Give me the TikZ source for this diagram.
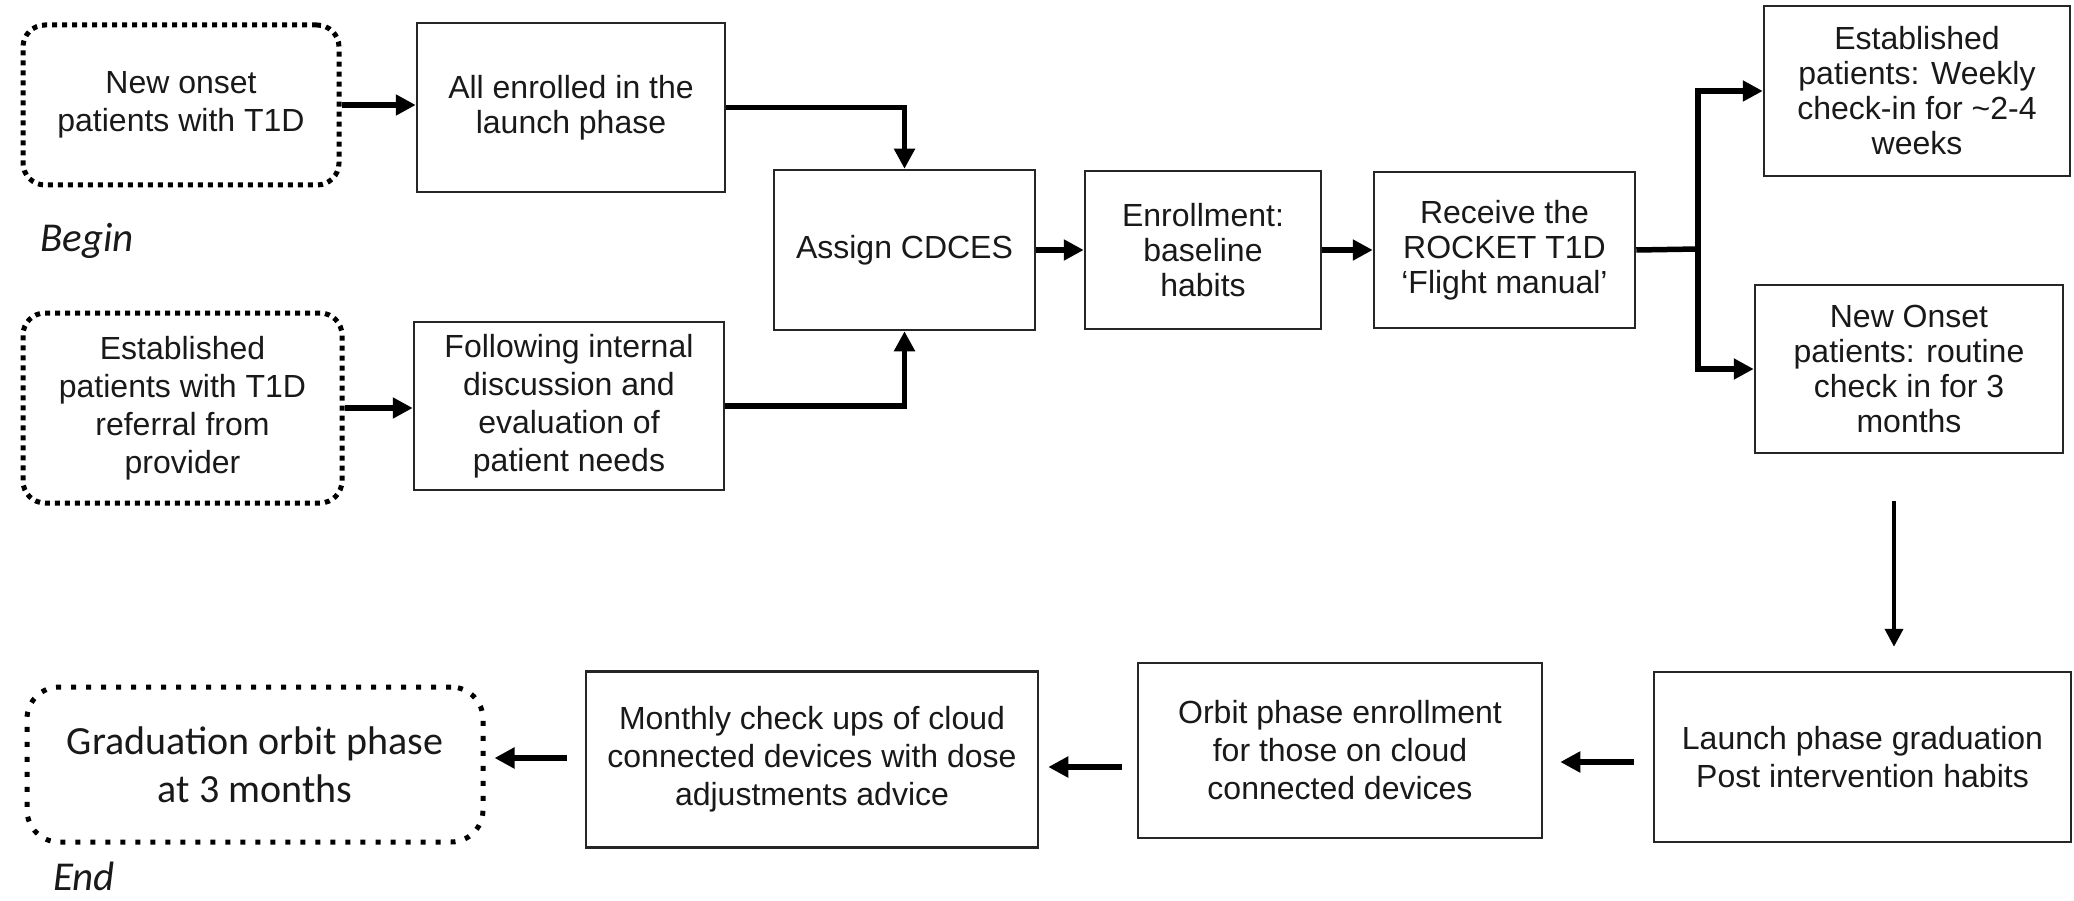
\documentclass[tikz,border=0pt]{standalone}
\usepackage{fontspec}
\setmainfont{Liberation Sans}
\newfontfamily\calibri{Carlito}
\usetikzlibrary{arrows.meta}
\tikzset{
  every node/.style={text=black!90},
  stepbox/.style={draw=black!85, line width=2.5pt, align=center, inner sep=0pt,
                  font=\fontsize{32}{35}\selectfont},
  loose/.style={font=\fontsize{32}{38}\selectfont},
  dotbox/.style={draw=black, line width=5pt, dash pattern=on 5pt off 5pt,
                 rounded corners=22pt, align=center, inner sep=0pt,
                 font=\fontsize{32}{38}\selectfont},
  flow/.style={line width=5.5pt, -{Triangle[length=20pt,width=20pt]}},
  thinflow/.style={line width=4pt, -{Triangle[length=18pt,width=18pt]}},
  note/.style={font=\calibri\itshape\fontsize{41}{48}\selectfont, anchor=base west, inner sep=0pt},
}
\begin{document}
\begin{tikzpicture}[x=1pt,y=-1pt]
\useasboundingbox (0,0) rectangle (2074,901);

% ---- entry points -------------------------------------------------------
\node[dotbox, minimum width=316pt, minimum height=160pt] (onset) at (181,105)
  {New onset\\patients with T1D};
\node[dotbox, minimum width=319pt, minimum height=190pt] (estab) at (182.5,408)
  {Established\\patients with T1D\\referral from\\provider};
\node[note] (begin) at (40,252) {Begin};

% ---- launch phase -------------------------------------------------------
\node[stepbox, minimum width=308pt, minimum height=169pt] (enroll) at (571,107.5)
  {All enrolled in the\\launch phase};
\node[stepbox, loose, minimum width=310pt, minimum height=168pt] (follow) at (569,406)
  {Following internal\\discussion and\\evaluation of\\patient needs};
\node[stepbox, minimum width=261pt, minimum height=160pt] (assign) at (904.5,250)
  {Assign CDCES};
\node[stepbox, minimum width=236pt, minimum height=158pt] (baseline) at (1203,250)
  {Enrollment:\\baseline\\habits};
\node[stepbox, minimum width=261pt, minimum height=156pt] (receive) at (1504.5,250)
  {Receive the\\ROCKET T1D\\‘Flight manual’};
\node[stepbox, minimum width=306pt, minimum height=170pt] (weekly) at (1917,91)
  {Established\\patients: Weekly\\check-in for \textasciitilde2-4\\weeks};
\node[stepbox, minimum width=308pt, minimum height=168pt] (routine) at (1909,369)
  {New Onset\\patients: routine\\check in for 3\\months};

% ---- orbit phase --------------------------------------------------------
\node[stepbox, loose, minimum width=417pt, minimum height=170pt] (launch) at (1862.5,757)
  {Launch phase graduation\\Post intervention habits};
\node[stepbox, loose, minimum width=404pt, minimum height=175pt] (orbit) at (1340,750.5)
  {Orbit phase enrollment\\for those on cloud\\connected devices};
\node[stepbox, loose, minimum width=452pt, minimum height=176pt] (monthly) at (812,759.5)
  {Monthly check ups of cloud\\connected devices with dose\\adjustments advice};
\node[dotbox, dash pattern=on 5pt off 10pt, rounded corners=32pt,
      font=\calibri\fontsize{40}{48}\selectfont,
      minimum width=456pt, minimum height=155pt] (grad) at (255,764.5)
  {Graduation orbit phase\\at 3 months};
\node[note] (end) at (53,890) {End};

% ---- helper coordinates for floating arrows -----------------------------
\coordinate (branch) at (1698,249);
\coordinate (down) at (1894,0);
\coordinate (rowA) at (0,762);
\coordinate (rowB) at (0,767);
\coordinate (rowC) at (0,758);

% ---- connectors ---------------------------------------------------------
\draw[flow] (onset.east) -- (onset.east -| enroll.west);
\draw[flow] (estab.east) -- (estab.east -| follow.west);
\draw[flow] (enroll.east) -| (assign.north);
\draw[flow] (follow.east) -| (assign.south);
\draw[flow] (assign) -- (baseline);
\draw[flow] (baseline) -- (receive);
\draw[line width=5.5pt] (receive.east) -- (branch);
\draw[flow] (branch) |- (weekly.west);
\draw[flow] (branch) |- (routine.west);
\draw[thinflow, shorten <=47pt, shorten >=24pt]
  (routine.south -| down) -- (launch.north -| down);
\draw[flow, shorten <=19pt, shorten >=17pt]
  (launch.west |- rowA) -- (orbit.east |- rowA);
\draw[flow, shorten <=15pt, shorten >=9pt]
  (orbit.west |- rowB) -- (monthly.east |- rowB);
\draw[flow, shorten <=18pt, shorten >=9pt]
  (monthly.west |- rowC) -- (grad.east |- rowC);
\end{tikzpicture}
\end{document}
